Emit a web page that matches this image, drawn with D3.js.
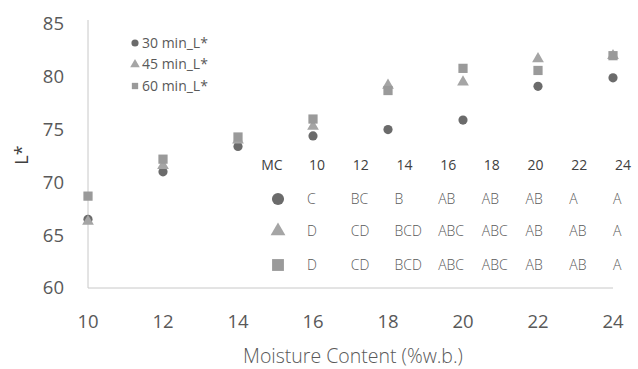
<!DOCTYPE html>
<html>
<head>
	<meta charset="utf-8">
	<script src="https://d3js.org/d3.v7.min.js"></script>
	<title>L* vs moisture content</title>
	<style>
		body { margin: 0; background: #fff; }
		text { font-family: "Open Sans", "Noto Sans", sans-serif; }
	</style>
</head>
<body>
	<div id="chart"></div>

	<script type="text/javascript">

		// moisture content (%w.b.)
		var mc = [10, 12, 14, 16, 18, 20, 22, 24];

		// L* values per drying time
		var l30 = [66.5, 71.0, 73.4, 74.4, 75.0, 75.9, 79.1, 79.9];
		var l45 = [66.3, 71.6, 74.0, 75.3, 79.2, 79.5, 81.7, 82.0];
		var l60 = [68.7, 72.2, 74.3, 76.0, 78.7, 80.8, 80.6, 82.0];

		var seriesNames = ["30 min_L*", "45 min_L*", "60 min_L*"];

		// letter groups shown in the inset table
		var tableHeader = ["10", "12", "14", "16", "18", "20", "22", "24"];
		var groups30 = ["C", "BC", "B", "AB", "AB", "AB", "A", "A"];
		var groups45 = ["D", "CD", "BCD", "ABC", "ABC", "AB", "AB", "A"];
		var groups60 = ["D", "CD", "BCD", "ABC", "ABC", "AB", "AB", "A"];

		var xTicks = [10, 12, 14, 16, 18, 20, 22, 24];
		var yTicks = [60, 65, 70, 75, 80, 85];

		var width = 638, height = 369;

		var svg = d3.select("#chart").append("svg")
			.attr("width", width)
			.attr("height", height);

		var xScale = d3.scaleLinear().domain([10, 24]).range([88, 613]);
		var yScale = d3.scaleLinear().domain([60, 85]).range([288, 24]);

		var series = [
			{name: seriesNames[0], values: l30, shape: d3.symbolCircle, size: 66, color: "#6b6b6b", tsize: 115},
			{name: seriesNames[1], values: l45, shape: d3.symbolTriangle, size: 60, color: "#a5a5a5", tsize: 95},
			{name: seriesNames[2], values: l60, shape: d3.symbolSquare, size: 85, color: "#9a9a9a", tsize: 140}
		];

		// axis lines
		svg.append("line")
			.attr("x1", xScale(10)).attr("x2", xScale(10))
			.attr("y1", 20).attr("y2", yScale(60))
			.attr("stroke", "#c8c8c8").attr("stroke-width", 1);
		svg.append("line")
			.attr("x1", xScale(10)).attr("x2", xScale(24))
			.attr("y1", yScale(60)).attr("y2", yScale(60))
			.attr("stroke", "#c8c8c8").attr("stroke-width", 1);

		// tick labels
		svg.selectAll(".ytick")
			.data(yTicks).enter().append("text")
			.attr("class", "ytick")
			.attr("x", 64)
			.attr("y", function(d){ return yScale(d); })
			.attr("dy", "0.35em")
			.attr("text-anchor", "end")
			.attr("font-size", 18.5)
			.attr("fill", "#595959")
			.text(function(d){ return d; });

		svg.selectAll(".xtick")
			.data(xTicks).enter().append("text")
			.attr("class", "xtick")
			.attr("x", function(d){ return xScale(d); })
			.attr("y", 322)
			.attr("dy", "0.35em")
			.attr("text-anchor", "middle")
			.attr("font-size", 18.5)
			.attr("fill", "#595959")
			.text(function(d){ return d; });

		// axis titles
		svg.append("text")
			.attr("transform", "translate(22,155) rotate(-90)")
			.attr("text-anchor", "middle")
			.attr("dy", "0.35em")
			.attr("font-size", 18)
			.attr("fill", "#404040")
			.text("L*");

		svg.append("text")
			.attr("x", 353)
			.attr("y", 356)
			.attr("dy", "0.35em")
			.attr("text-anchor", "middle")
			.attr("font-size", 19.5)
			.attr("font-weight", 300)
			.attr("fill", "#595959")
			.text("Moisture Content (%w.b.)");

		// points
		series.forEach(function(s){
			svg.selectAll(null)
				.data(s.values).enter().append("path")
				.attr("d", d3.symbol().type(s.shape).size(s.size))
				.attr("transform", function(d, i){
					return "translate(" + xScale(mc[i]) + "," + yScale(d) + ")";
				})
				.attr("fill", s.color);
		});

		// legend
		var legend = svg.selectAll(".legend")
			.data(series).enter().append("g")
			.attr("class", "legend")
			.attr("transform", function(d, i){ return "translate(135," + (43 + i * 21.5) + ")"; });
		legend.append("path")
			.attr("d", function(d){ return d3.symbol().type(d.shape).size(40)(); })
			.attr("fill", function(d){ return d.color; });
		legend.append("text")
			.attr("x", 7)
			.attr("dy", "0.35em")
			.attr("font-size", 14)
			.attr("fill", "#595959")
			.text(function(d){ return d.name; });

		// inset table
		var colX = d3.scaleLinear().domain([0, 7]).range([309, 615]);
		var rowY = [165, 199, 231, 265];

		svg.append("text")
			.attr("x", 272).attr("y", rowY[0])
			.attr("dy", "0.35em")
			.attr("text-anchor", "middle")
			.attr("font-size", 14)
			.attr("fill", "#404040")
			.text("MC");

		svg.selectAll(".thead")
			.data(tableHeader).enter().append("text")
			.attr("class", "thead")
			.attr("x", function(d, i){ return colX(i); })
			.attr("y", rowY[0])
			.attr("dy", "0.35em")
			.attr("font-size", 14)
			.attr("font-weight", 500)
			.attr("fill", "#404040")
			.text(function(d){ return d; });

		var rows = [groups30, groups45, groups60];
		rows.forEach(function(r, k){
			svg.append("path")
				.attr("d", d3.symbol().type(series[k].shape).size(series[k].tsize)())
				.attr("transform", "translate(278," + rowY[k + 1] + ")")
				.attr("fill", series[k].color);

			svg.selectAll(null)
				.data(r).enter().append("text")
				.attr("x", function(d, i){ return colX(i) - 2; })
				.attr("y", rowY[k + 1])
				.attr("dy", "0.35em")
				.attr("font-size", 14)
				.attr("font-weight", 300)
				.attr("fill", "#595959")
				.text(function(d){ return d; });
		});

	</script>
</body>
</html>
